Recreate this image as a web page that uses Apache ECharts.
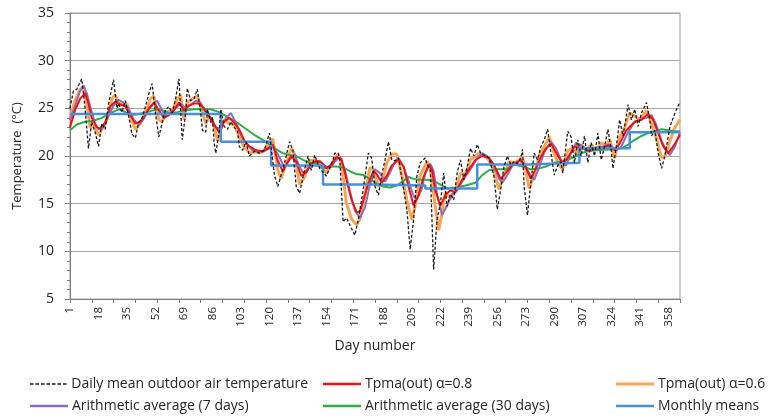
<!DOCTYPE html>
<html>
<head>
<meta charset="utf-8">
<title>Temperature</title>
<script src="https://cdn.jsdelivr.net/npm/echarts@6/dist/echarts.min.js"></script>
<style>
    html, body { margin: 0; padding: 0; background: #fff; }
    #chart { width: 773px; height: 416px; }
</style>
</head>
<body>
<div id="chart"></div>
<script>
    // [day, °C] points
    let dailyMean = [[1,25.0],[3,26.8],[5,27.0],[8,28.1],[10,25.0],[12,20.8],[14,23.6],[16,22.5],[18,21.0],[20,23.4],[22,22.8],[24,25.5],[27,28.0],[29,25.0],[30,25.5],[32,24.6],[34,25.8],[36,24.2],[38,22.3],[40,21.9],[42,23.5],[44,24.0],[46,25.2],[48,26.5],[50,27.6],[52,24.5],[54,22.0],[56,23.5],[58,24.8],[60,25.2],[62,24.5],[64,26.0],[66,28.1],[68,21.7],[70,24.5],[71,27.1],[73,25.8],[75,26.0],[77,27.0],[79,24.5],[80,22.7],[82,22.5],[83,24.9],[85,23.5],[86,24.1],[87,21.4],[88,20.3],[90,22.5],[91,24.9],[93,23.1],[95,22.8],[97,23.6],[99,23.0],[101,22.6],[102,21.0],[104,20.6],[106,21.5],[108,20.0],[111,20.5],[114,20.3],[117,20.6],[120,22.4],[121,22.2],[123,18.0],[125,16.8],[128,18.6],[130,20.0],[132,21.5],[134,20.6],[136,16.8],[138,16.1],[141,18.6],[143,20.0],[145,18.5],[147,20.1],[150,18.7],[154,17.9],[158,19.6],[159,20.3],[161,20.3],[162,19.6],[164,13.1],[166,13.5],[169,12.4],[171,11.7],[173,13.3],[176,16.5],[179,20.3],[181,19.8],[183,16.8],[185,15.9],[187,18.0],[189,19.6],[191,21.5],[193,19.6],[195,19.5],[197,19.8],[200,16.6],[202,14.4],[204,10.2],[206,13.3],[208,17.9],[210,19.3],[213,19.8],[214,19.2],[216,18.5],[218,8.1],[220,13.3],[222,15.0],[224,18.2],[226,14.7],[228,16.0],[230,15.4],[232,18.2],[234,19.6],[236,17.5],[238,18.8],[240,20.8],[242,20.0],[244,21.2],[246,20.3],[248,20.1],[251,19.8],[254,17.9],[256,14.4],[258,16.5],[260,18.9],[262,20.0],[264,19.1],[266,19.4],[268,19.2],[270,19.8],[271,20.7],[272,16.8],[274,13.8],[276,17.2],[278,20.3],[280,19.6],[282,21.0],[284,21.7],[286,22.8],[288,20.3],[290,18.0],[292,19.0],[294,19.4],[295,18.2],[298,22.6],[300,22.0],[302,19.3],[304,21.7],[306,20.0],[308,22.1],[310,19.3],[312,21.4],[314,20.0],[316,22.4],[318,19.6],[320,21.0],[322,22.8],[324,20.5],[325,18.7],[327,21.0],[329,23.8],[331,22.1],[333,24.2],[334,25.4],[336,23.8],[338,24.9],[340,23.1],[342,24.5],[345,25.6],[347,23.8],[348,22.1],[350,22.7],[352,20.3],[354,18.7],[356,20.0],[359,23.1],[362,24.5],[365,25.7]]

    let tpma08 = [[1,23.0],[4,24.8],[7,26.0],[10,26.6],[12,25.5],[14,24.0],[17,23.0],[19,22.9],[22,23.5],[25,25.2],[28,25.7],[31,25.4],[34,25.2],[37,24.3],[40,23.4],[43,23.6],[46,24.3],[48,25.0],[51,25.6],[54,24.8],[57,24.0],[60,24.3],[63,24.8],[66,25.6],[69,24.8],[72,25.3],[75,25.5],[78,25.5],[81,25.0],[84,24.2],[87,23.3],[90,22.5],[93,23.6],[96,24.0],[99,23.5],[102,22.8],[105,21.6],[108,21.0],[112,20.6],[116,20.5],[119,20.8],[122,21.2],[125,19.5],[128,18.4],[131,19.4],[133,20.0],[136,19.4],[139,17.9],[142,18.3],[145,19.2],[148,19.5],[151,19.3],[154,18.7],[157,19.1],[160,19.9],[163,19.7],[166,17.5],[169,15.4],[172,14.1],[174,14.2],[176,15.3],[179,17.1],[182,18.4],[184,18.1],[187,17.2],[190,17.9],[193,19.0],[197,19.6],[200,18.9],[203,16.8],[206,14.8],[209,15.9],[212,17.8],[215,19.1],[217,18.6],[219,16.4],[222,14.8],[225,15.9],[228,16.4],[231,16.2],[235,17.5],[239,18.6],[243,19.6],[247,20.0],[251,19.8],[254,19.1],[258,17.6],[261,18.2],[265,19.1],[270,19.6],[273,18.8],[276,17.6],[279,18.7],[282,19.9],[285,20.8],[288,21.3],[291,20.4],[295,19.2],[298,19.8],[302,21.0],[306,20.8],[310,20.6],[314,20.7],[318,20.8],[322,21.1],[326,20.6],[329,21.3],[333,22.7],[338,23.6],[342,23.8],[346,24.4],[349,23.8],[352,22.4],[355,21.0],[358,20.3],[361,21.0],[365,22.2]]

    let tpma06 = [[1,24.0],[4,25.8],[7,27.0],[9,27.3],[11,25.5],[13,23.0],[15,23.2],[18,22.2],[20,22.8],[23,23.8],[26,26.0],[28,26.4],[30,25.6],[33,25.3],[35,25.5],[38,23.6],[40,22.8],[43,23.4],[46,24.6],[49,26.0],[51,26.3],[54,23.8],[56,23.6],[59,24.6],[62,24.8],[65,26.0],[67,26.4],[69,23.8],[71,25.6],[74,26.0],[77,26.3],[80,24.6],[82,23.4],[84,24.1],[86,23.8],[89,21.6],[91,22.8],[93,23.8],[96,23.4],[99,23.3],[102,22.0],[105,20.9],[108,20.4],[112,20.4],[116,20.4],[119,21.2],[122,21.8],[125,18.5],[127,17.6],[130,19.2],[133,20.8],[135,20.2],[138,17.0],[141,17.8],[144,19.5],[147,19.6],[150,19.1],[154,18.2],[158,19.4],[161,20.2],[163,19.2],[166,15.0],[169,13.4],[172,12.8],[174,13.4],[177,16.0],[180,18.8],[182,18.6],[185,16.8],[187,17.0],[190,19.3],[193,20.2],[196,20.2],[199,18.0],[202,15.4],[205,13.3],[207,14.8],[210,18.0],[214,19.4],[216,18.9],[218,16.0],[221,12.2],[223,14.0],[225,16.2],[228,15.5],[231,16.4],[234,18.2],[237,18.1],[240,19.6],[243,20.0],[245,20.3],[249,20.0],[252,19.3],[254,18.4],[257,16.5],[260,18.0],[263,19.4],[267,19.3],[271,19.9],[273,18.5],[275,16.6],[278,18.0],[281,20.0],[284,21.0],[287,22.0],[290,20.2],[293,19.0],[295,18.6],[298,20.6],[301,20.8],[303,20.2],[306,21.2],[309,20.6],[312,21.2],[315,20.6],[318,21.4],[321,21.0],[323,21.8],[326,19.8],[329,22.0],[332,23.0],[335,24.5],[338,24.2],[341,23.8],[345,24.8],[348,23.4],[351,21.8],[354,19.8],[356,20.0],[359,21.6],[362,23.0],[365,23.8]]

    let avg7 = [[1,23.8],[4,25.2],[7,26.8],[9,27.4],[11,26.6],[14,24.6],[16,23.4],[18,22.8],[21,23.0],[24,24.2],[27,25.3],[30,25.9],[33,25.6],[36,25.0],[39,23.8],[42,23.3],[45,23.9],[48,24.9],[51,25.5],[53,25.8],[56,24.8],[58,24.2],[61,24.5],[64,25.0],[67,25.5],[70,25.0],[73,25.4],[76,25.8],[79,25.6],[82,24.5],[85,24.0],[88,23.0],[91,22.8],[94,24.0],[97,24.5],[100,23.5],[103,22.2],[106,21.3],[110,20.6],[114,20.4],[118,20.6],[122,21.0],[125,20.2],[129,18.8],[132,19.6],[135,20.2],[137,19.3],[140,18.2],[143,18.6],[146,19.3],[150,19.5],[153,19.0],[156,18.7],[159,19.4],[162,19.9],[165,18.6],[168,16.3],[171,14.3],[174,13.5],[177,14.6],[180,17.0],[183,18.6],[186,18.2],[189,17.3],[192,18.3],[195,19.4],[197,19.8],[200,18.9],[203,17.4],[206,15.8],[208,15.4],[211,16.6],[213,18.2],[216,19.2],[218,18.4],[220,16.0],[223,13.8],[226,14.8],[229,16.0],[232,16.4],[236,17.6],[240,18.6],[244,19.8],[247,20.3],[250,20.0],[254,19.0],[257,17.6],[259,17.2],[262,18.0],[265,19.0],[269,19.5],[272,19.2],[275,18.2],[278,17.5],[281,18.8],[284,20.4],[288,21.5],[291,20.8],[294,19.6],[297,19.0],[300,20.3],[303,21.4],[307,21.0],[311,20.5],[315,20.9],[319,21.0],[323,21.2],[327,20.6],[330,21.0],[334,22.5],[338,23.6],[342,23.9],[345,24.0],[348,24.3],[351,23.2],[354,21.6],[357,20.5],[359,20.1],[362,21.0],[365,22.5]]

    let avg30 = [[1,22.7],[5,23.3],[10,23.6],[15,23.7],[20,24.0],[25,24.5],[30,24.9],[34,24.6],[37,24.3],[42,24.4],[47,24.6],[53,24.9],[58,24.7],[60,24.5],[65,24.6],[70,24.8],[75,24.9],[80,24.9],[85,24.9],[90,24.6],[95,24.1],[100,23.6],[104,23.1],[108,22.6],[112,22.1],[116,21.7],[120,21.2],[124,20.7],[128,20.3],[132,20.1],[136,20.0],[140,19.6],[144,19.3],[148,19.2],[152,18.7],[156,18.9],[160,18.9],[164,18.8],[168,18.4],[172,18.1],[176,18.0],[180,17.6],[184,17.1],[188,16.8],[192,16.7],[196,16.9],[200,17.4],[203,17.8],[206,17.6],[210,17.5],[214,17.5],[218,17.4],[222,17.0],[226,16.6],[231,16.7],[237,16.9],[243,17.2],[247,18.0],[251,18.5],[256,18.6],[261,18.6],[266,19.1],[271,18.9],[276,18.6],[281,18.7],[285,18.9],[290,19.3],[296,19.5],[302,19.9],[306,20.3],[310,20.5],[315,20.6],[320,20.65],[325,20.7],[330,20.8],[334,21.2],[338,21.7],[342,22.1],[346,22.4],[350,22.6],[354,22.8],[358,22.7],[362,22.6],[365,22.6]]

    let monthStartDays = [1, 32, 60, 91, 121, 152, 182, 213, 244, 274, 305, 335, 365]
    let monthlyMeans = [24.4, 24.4, 24.4, 21.5, 19.0, 17.0, 16.9, 16.6, 19.1, 19.3, 20.8, 22.5, 22.5]

    let xTickLabels = [1, 18, 35, 52, 69, 86, 103, 120, 137, 154, 171, 188, 205, 222, 239, 256, 273, 290, 307, 324, 341, 358]
    let xTickMarks = [1, 14, 27, 40, 53, 66, 79, 92, 105, 118, 131, 144, 157, 170, 183, 196, 209, 222, 235, 248, 261, 274, 287, 300, 313, 326, 339, 352, 365]

    let fontName = "'Open Sans', 'DejaVu Sans', sans-serif"
    let textColor = '#262626'

    let monthlyData = monthStartDays.map((d, i) => [d, monthlyMeans[i]])

    let dashIcon = 'path://M0,0h3.5v1.5h-3.5z M5.5,0h3.5v1.5h-3.5z M11,0h3.5v1.5h-3.5z M16.5,0h3.5v1.5h-3.5z M22,0h3.5v1.5h-3.5z M27.5,0h3.5v1.5h-3.5z M33,0h3.5v1.5h-3.5z'

    function legendItem(name, left, top, icon, thick) {
        return {
            left: left,
            top: top,
            padding: 0,
            itemWidth: 38,
            itemHeight: thick,
            icon: icon,
            data: [name],
            textStyle: { fontFamily: fontName, fontSize: 14, color: textColor, padding: [0, 0, 0, -1] }
        }
    }

    let myChart = echarts.init(document.getElementById('chart'))

    let option = {
        animation: false,
        textStyle: { fontFamily: fontName },
        legend: [
            legendItem('Daily mean outdoor air temperature', 30, 377, dashIcon, 1.5),
            legendItem('Tpma(out) α=0.8', 323, 377, 'rect', 2.5),
            legendItem('Tpma(out) α=0.6', 616, 377, 'rect', 3),
            legendItem('Arithmetic average (7 days)', 30, 399, 'rect', 2.5),
            legendItem('Arithmetic average (30 days)', 323, 399, 'rect', 2.5),
            legendItem('Monthly means', 616, 399, 'rect', 2.5)
        ],
        grid: {
            left: 70,
            right: 93,
            top: 13,
            bottom: 117,
            show: true,
            borderColor: '#9a9a9a',
            borderWidth: 1
        },
        xAxis: {
            type: 'value',
            min: 1,
            max: 365,
            name: 'Day number',
            nameLocation: 'middle',
            nameGap: 40,
            nameTextStyle: { fontFamily: fontName, fontSize: 14, color: textColor },
            axisLine: { show: true, lineStyle: { color: '#7f7f7f', width: 1 } },
            axisTick: { show: true, length: 4, customValues: xTickMarks, lineStyle: { color: '#7f7f7f' } },
            axisLabel: {
                customValues: xTickLabels,
                rotate: 90,
                margin: 8,
                fontFamily: fontName,
                fontSize: 11.5,
                color: textColor
            },
            splitLine: { show: false }
        },
        yAxis: {
            type: 'value',
            min: 5,
            max: 35,
            interval: 5,
            name: 'Temperature  (°C)',
            nameLocation: 'middle',
            nameGap: 46,
            nameTextStyle: { fontFamily: fontName, fontSize: 13, color: textColor },
            axisLine: { show: true, lineStyle: { color: '#7f7f7f', width: 1 } },
            axisTick: { show: true, length: 5, lineStyle: { color: '#7f7f7f' } },
            minorTick: { show: true, splitNumber: 5, length: 3, lineStyle: { color: '#7f7f7f' } },
            axisLabel: { fontFamily: fontName, fontSize: 14, color: textColor, margin: 16 },
            splitLine: { show: true, lineStyle: { color: '#a6a6a6', width: 1 } }
        },
        series: [
            {
                name: 'Tpma(out) α=0.6',
                type: 'line',
                symbol: 'none',
                z: 2,
                color: '#F8A555',
                lineStyle: { width: 3, color: '#F8A555' },
                data: tpma06
            },
            {
                name: 'Arithmetic average (30 days)',
                type: 'line',
                symbol: 'none',
                z: 3,
                color: '#2BAE4A',
                lineStyle: { width: 2, color: '#2BAE4A' },
                data: avg30
            },
            {
                name: 'Arithmetic average (7 days)',
                type: 'line',
                symbol: 'none',
                z: 4,
                color: '#8D6DBE',
                lineStyle: { width: 2, color: '#8D6DBE' },
                data: avg7
            },
            {
                name: 'Tpma(out) α=0.8',
                type: 'line',
                symbol: 'none',
                z: 5,
                color: '#F01010',
                lineStyle: { width: 2, color: '#F01010' },
                data: tpma08
            },
            {
                name: 'Monthly means',
                type: 'line',
                symbol: 'none',
                step: 'end',
                z: 6,
                color: '#4A8FDB',
                lineStyle: { width: 2.5, color: '#4A8FDB' },
                data: monthlyData
            },
            {
                name: 'Daily mean outdoor air temperature',
                type: 'line',
                symbol: 'none',
                z: 7,
                color: '#1a1a1a',
                lineStyle: { width: 1.3, color: '#1a1a1a', type: [3, 2] },
                data: dailyMean
            }
        ]
    }

    myChart.setOption(option)
    window.addEventListener('resize', () => myChart.resize(), false)
</script>
</body>
</html>
